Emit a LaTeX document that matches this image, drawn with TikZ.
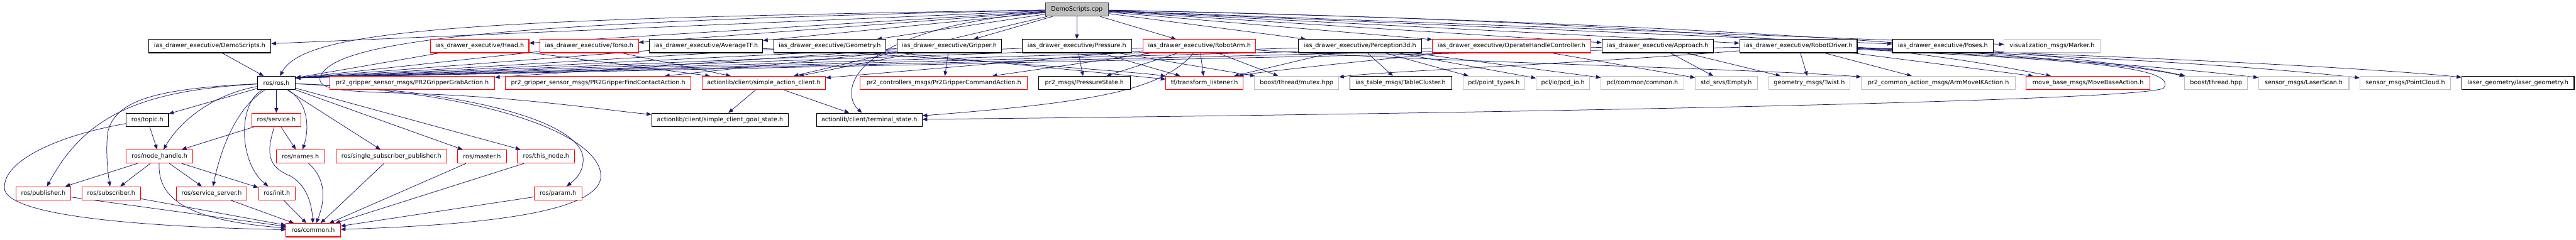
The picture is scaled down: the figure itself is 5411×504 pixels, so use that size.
\documentclass[tikz,border=0pt]{standalone}
\usepackage{fontspec}
\setmainfont{DejaVu Sans}
\usetikzlibrary{arrows.meta,backgrounds}
\definecolor{edgeblue}{HTML}{191970}
\definecolor{boxred}{HTML}{FF0000}
\definecolor{boxgray}{HTML}{BFBFBF}
\newcommand\dfont{\fontsize{12.7}{15}\selectfont}
\begin{document}
\begin{tikzpicture}[x=1pt,y=-1pt,
  box/.style={draw=black, fill=white, line width=1.4pt, inner sep=0pt, minimum height=28pt, font=\dfont, text=black},
  rbox/.style={box, draw=boxred},
  gbox/.style={box, draw=boxgray},
  rootbox/.style={box, fill=boxgray, draw=black!75},
  edge/.style={draw=edgeblue, line width=1pt, -{Triangle[length=10pt,width=8pt]}},
]
\useasboundingbox (0,0) rectangle (5411,504);
% row 0
\node[rootbox, minimum width=132pt] (cpp) at (2262,20) {DemoScripts.cpp};
% row 1
\node[box,  minimum width=257pt] (dsh)    at (440.5,97)  {ias\_drawer\_executive/DemoScripts.h};
\node[rbox, minimum width=207pt] (head)   at (1007.5,97) {ias\_drawer\_executive/Head.h};
\node[rbox, minimum width=207pt] (torso)  at (1237.5,97) {ias\_drawer\_executive/Torso.h};
\node[box,  minimum width=238pt] (avg)    at (1483,97)   {ias\_drawer\_executive/AverageTF.h};
\node[box,  minimum width=236pt] (geom)   at (1743,97)   {ias\_drawer\_executive/Geometry.h};
\node[box,  minimum width=220pt] (grip)   at (1994,97)   {ias\_drawer\_executive/Gripper.h};
\node[box,  minimum width=230pt] (press)  at (2262,97)   {ias\_drawer\_executive/Pressure.h};
\node[rbox, minimum width=237pt] (arm)    at (2519.5,97) {ias\_drawer\_executive/RobotArm.h};
\node[box,  minimum width=259pt] (perc)   at (2856.5,97) {ias\_drawer\_executive/Perception3d.h};
\node[rbox, minimum width=332pt] (ohc)    at (3175,97)   {ias\_drawer\_executive/OperateHandleController.h};
\node[box,  minimum width=234pt] (appr)   at (3482,97)   {ias\_drawer\_executive/Approach.h};
\node[box,  minimum width=247pt] (drv)    at (3777.5,97) {ias\_drawer\_executive/RobotDriver.h};
\node[box,  minimum width=212pt] (poses)  at (4081,97)   {ias\_drawer\_executive/Poses.h};
\node[gbox, minimum width=201pt] (marker) at (4310.5,97) {visualization\_msgs/Marker.h};
% row 2
\node[box,  minimum width=79pt]  (ros)    at (580.5,174.5)  {ros/ros.h};
\node[rbox, minimum width=346pt] (grab)   at (866,174.5)    {pr2\_gripper\_sensor\_msgs/PR2GripperGrabAction.h};
\node[rbox, minimum width=389pt] (find)   at (1256.5,174.5) {pr2\_gripper\_sensor\_msgs/PR2GripperFindContactAction.h};
\node[rbox, minimum width=259pt] (sac)    at (1604.5,174.5) {actionlib/client/simple\_action\_client.h};
\node[rbox, minimum width=351pt] (cmd)    at (1982.5,174.5) {pr2\_controllers\_msgs/Pr2GripperCommandAction.h};
\node[box,  minimum width=192pt] (pstate) at (2278,174.5)   {pr2\_msgs/PressureState.h};
\node[rbox, minimum width=162pt] (tf)     at (2530,174.5)   {tf/transform\_listener.h};
\node[gbox, minimum width=177pt] (mutex)  at (2723.5,174.5) {boost/thread/mutex.hpp};
\node[box,  minimum width=214pt] (table)  at (2942,174.5)   {ias\_table\_msgs/TableCluster.h};
\node[gbox, minimum width=130pt] (ptypes) at (3138,174.5)   {pcl/point\_types.h};
\node[gbox, minimum width=112pt] (pcd)    at (3283,174.5)   {pcl/io/pcd\_io.h};
\node[gbox, minimum width=174pt] (pclc)   at (3450,174.5)   {pcl/common/common.h};
\node[gbox, minimum width=130pt] (empty)  at (3626,174.5)   {std\_srvs/Empty.h};
\node[gbox, minimum width=171pt] (twist)  at (3800.5,174.5) {geometry\_msgs/Twist.h};
\node[gbox, minimum width=323pt] (armik)  at (4071.5,174.5) {pr2\_common\_action\_msgs/ArmMoveIKAction.h};
\node[rbox, minimum width=260pt] (mb)     at (4386,174.5)   {move\_base\_msgs/MoveBaseAction.h};
\node[gbox, minimum width=132pt] (bthr)   at (4655,174.5)   {boost/thread.hpp};
\node[gbox, minimum width=190pt] (laser)  at (4839,174.5)   {sensor\_msgs/LaserScan.h};
\node[gbox, minimum width=191pt] (pc)     at (5052.5,174.5) {sensor\_msgs/PointCloud.h};
\node[box,  minimum width=236pt] (lgeo)   at (5289,174.5)   {laser\_geometry/laser\_geometry.h};
% row 3
\node[box,  minimum width=89pt]  (topic)   at (309.5,252)  {ros/topic.h};
\node[rbox, minimum width=103pt] (service) at (580.5,252)  {ros/service.h};
\node[box,  minimum width=287pt] (goal)    at (1512.5,252) {actionlib/client/simple\_client\_goal\_state.h};
\node[box,  minimum width=222pt] (term)    at (1826,252)   {actionlib/client/terminal\_state.h};
% row 4
\node[rbox, minimum width=140pt] (nh)       at (335,329)    {ros/node\_handle.h};
\node[rbox, minimum width=102pt] (names)    at (631,329)    {ros/names.h};
\node[rbox, minimum width=232pt] (ssp)      at (822,329)    {ros/single\_subscriber\_publisher.h};
\node[rbox, minimum width=103pt] (master)   at (1012.5,329) {ros/master.h};
\node[rbox, minimum width=120pt] (thisnode) at (1147,329)   {ros/this\_node.h};
% row 5
\node[rbox, minimum width=114pt] (pub)   at (91,406.5)    {ros/publisher.h};
\node[rbox, minimum width=123pt] (sub)   at (233.5,406.5) {ros/subscriber.h};
\node[rbox, minimum width=149pt] (ss)    at (444.5,406.5) {ros/service\_server.h};
\node[rbox, minimum width=77pt]  (init)  at (581.5,406.5) {ros/init.h};
\node[rbox, minimum width=100pt] (param) at (1172,406.5)  {ros/param.h};
% row 6
\node[rbox, minimum width=114pt] (common) at (658,484) {ros/common.h};

\begin{pgfonlayer}{background}
% from the source file
\foreach \t in {dsh,head,torso,avg,geom,grip,press,arm,perc,ohc,appr,drv,poses,marker}
  \draw[edge] (cpp) -- (\t);
\draw[edge] (cpp) .. controls (1000,40) and (640,60) .. (ros);
\draw[edge] (cpp) .. controls (1100,45) and (690,80) .. (672,165) .. controls (668,195) and (760,192) .. (900,198) .. controls (1100,205) and (1300,235) .. (goal);
\draw[edge] (cpp) .. controls (1790,60) and (1760,190) .. (term);
\draw[edge] (cpp) -- (sac);
\draw[edge] (cpp) .. controls (3800,50) and (4150,130) .. (mb);
\draw[edge] (cpp) .. controls (3900,55) and (4450,128) .. (bthr);
% into ros/ros.h
\draw[edge] (dsh) -- (ros);
\foreach \s in {head,torso,avg,geom,grip,press,arm,perc,ohc,appr,drv}
  \draw[edge] (\s) -- (ros.15);
% row 1 to row 2
\draw[edge] (head) -- (sac);
\draw[edge] (torso) -- (sac);
\draw[edge] (grip) -- (sac);
\draw[edge] (arm) -- (sac);
\draw[edge] (grip) -- (grab);
\draw[edge] (grip) -- (find);
\draw[edge] (grip) -- (cmd);
\draw[edge] (arm) -- (cmd);
\draw[edge] (press) -- (pstate);
\draw[edge] (arm) -- (pstate);
\draw[edge] (avg) .. controls (1900,115) and (2400,152) .. (tf);
\draw[edge] (geom) -- (tf);
\draw[edge] (press) -- (tf);
\draw[edge] (arm) -- (tf);
\draw[edge] (perc) -- (tf);
\draw[edge] (ohc) .. controls (2900,125) and (2650,150) .. (tf);
\draw[edge] (press) -- (mutex);
\draw[edge] (arm) -- (mutex);
\draw[edge] (drv) .. controls (3300,135) and (2900,150) .. (mutex);
\draw[edge] (perc) -- (table);
\draw[edge] (perc) -- (ptypes);
\draw[edge] (perc) -- (pcd);
\draw[edge] (perc) -- (pclc);
\draw[edge] (ohc) -- (empty);
\draw[edge] (appr) -- (empty);
\draw[edge] (appr) -- (twist);
\draw[edge] (drv) -- (twist);
\draw[edge] (arm) .. controls (3000,130) and (3700,145) .. (armik);
\draw[edge] (drv) -- (armik);
\draw[edge] (drv) -- (mb);
\draw[edge] (drv) .. controls (4100,105) and (4450,130) .. (bthr);
\draw[edge] (drv) .. controls (4200,115) and (4550,140) .. (laser);
\draw[edge] (drv) .. controls (4300,115) and (4700,135) .. (pc);
\draw[edge] (drv) .. controls (4400,115) and (4950,140) .. (lgeo);
\draw[edge] (arm) .. controls (2440,190) and (2300,215) .. (term);
\draw[edge] (drv) .. controls (4300,125) and (4580,135) .. (4545,185) .. controls (4510,212) and (3200,238) .. (term);
% actionlib
\draw[edge] (sac) -- (goal);
\draw[edge] (sac) -- (term);
% ros family
\draw[edge] (ros) -- (topic);
\draw[edge] (ros) .. controls (440,200) and (375,260) .. (nh);
\draw[edge] (ros) .. controls (300,190) and (180,240) .. (pub);
\draw[edge] (ros) .. controls (330,186) and (240,210) .. (226,280) .. controls (222,320) and (226,360) .. (sub);
\draw[edge] (ros) -- (service);
\draw[edge] (ros) .. controls (648,215) and (650,270) .. (names);
\draw[edge] (ros) -- (ssp);
\draw[edge] (ros) -- (master);
\draw[edge] (ros) -- (thisnode);
\draw[edge] (ros) .. controls (490,230) and (460,330) .. (ss);
\draw[edge] (ros) .. controls (500,215) and (500,340) .. (init);
\draw[edge] (ros) .. controls (1000,190) and (1225,260) .. (1225,335) .. controls (1225,365) and (1205,380) .. (param);
\draw[edge] (ros) .. controls (1050,195) and (1262,290) .. (1262,370) .. controls (1262,455) and (950,475) .. (common);
\draw[edge] (topic) -- (nh);
\draw[edge] (topic) .. controls (120,285) and (0,340) .. (10,400) .. controls (30,460) and (350,478) .. (common);
\draw[edge] (service) -- (nh);
\draw[edge] (service) -- (names);
\draw[edge] (service) .. controls (560,320) and (560,350) .. (610,370) .. controls (645,390) and (655,430) .. (common);
\draw[edge] (nh) -- (pub);
\draw[edge] (nh) -- (sub);
\draw[edge] (nh) -- (ss);
\draw[edge] (nh) -- (init);
\draw[edge] (nh) .. controls (330,430) and (420,465) .. (common);
\draw[edge] (names) .. controls (690,380) and (680,430) .. (common);
\draw[edge] (ssp) -- (common);
\draw[edge] (master) -- (common);
\draw[edge] (thisnode) -- (common);
\draw[edge] (param) -- (common);
\draw[edge] (init) -- (common);
\draw[edge] (ss) -- (common);
\draw[edge] (pub) -- (common);
\draw[edge] (sub) -- (common);
\end{pgfonlayer}
\end{tikzpicture}
\end{document}
